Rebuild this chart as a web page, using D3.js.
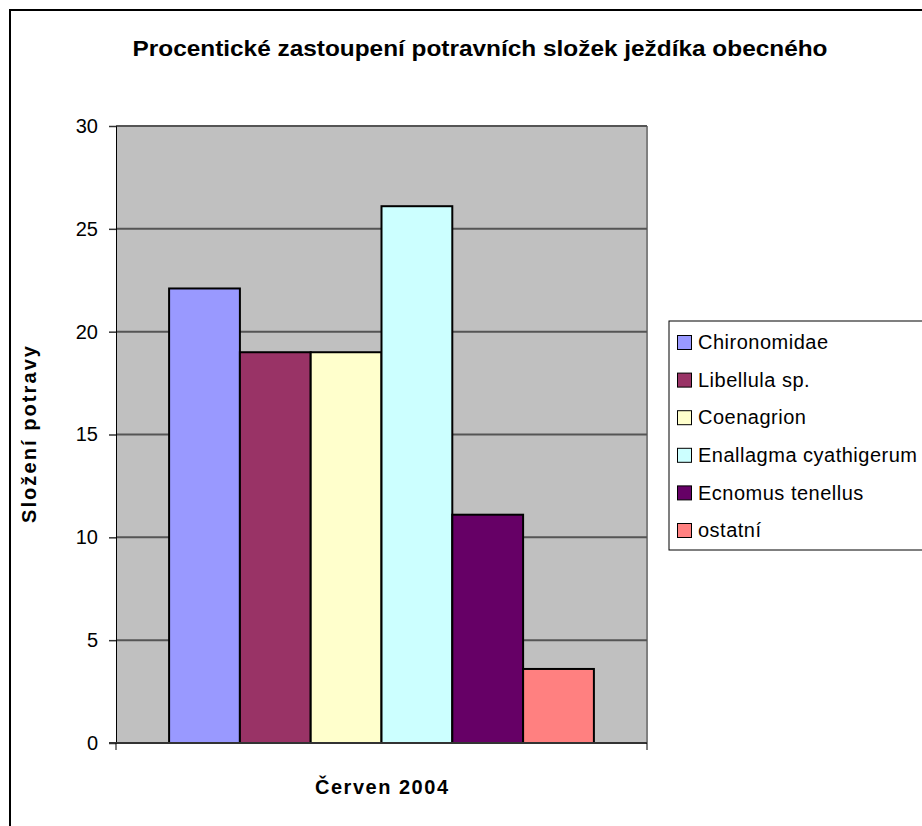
<!DOCTYPE html>
<html>
<head>
<meta charset="utf-8">
<script src="https://cdn.jsdelivr.net/npm/d3@7"></script>
<style>
  html, body { margin: 0; padding: 0; background: #fff; }
  svg { display: block; font-family: "Liberation Sans", Arial, sans-serif; }
</style>
</head>
<body>
<svg id="chart" width="922" height="826"></svg>
<script>
// Food composition of the great crested grebe, June 2004 (percent)
const categories = ["Chironomidae", "Libellula sp.", "Coenagrion", "Enallagma cyathigerum", "Ecnomus tenellus", "ostatní"];
const values = [22.1, 19.0, 19.0, 26.1, 11.1, 3.6];
const colors = ["#9999ff", "#993366", "#ffffcc", "#ccffff", "#660066", "#ff8080"];
const yTicks = [0, 5, 10, 15, 20, 25, 30];
const groupLabel = "Červen 2004";
const titleText = "Procentické zastoupení potravních složek ježdíka obecného";
const yTitle = "Složení potravy";

const svg = d3.select("#chart");

// Outer chart frame (runs off the right and bottom edges)
svg.append("rect")
  .attr("x", 10).attr("y", 10)
  .attr("width", 960).attr("height", 860)
  .attr("fill", "#fff").attr("stroke", "#000").attr("stroke-width", 2);

const plot = { left: 116, top: 126, right: 647, bottom: 743 };

const y = d3.scaleLinear().domain([0, 30]).range([plot.bottom, plot.top]);
const x = d3.scaleBand().domain(categories)
  .range([plot.left, plot.right])
  .paddingInner(0).paddingOuter(0.75);

// Plot background
svg.append("rect")
  .attr("x", plot.left).attr("y", plot.top)
  .attr("width", plot.right - plot.left).attr("height", plot.bottom - plot.top)
  .attr("fill", "#c0c0c0");

// Right border of plot area
svg.append("line")
  .attr("x1", plot.right).attr("x2", plot.right)
  .attr("y1", plot.top).attr("y2", plot.bottom)
  .attr("stroke", "#808080").attr("stroke-width", 2);

// Horizontal gridlines
svg.append("g").selectAll("line")
  .data(yTicks.filter(d => d > 0))
  .join("line")
  .attr("x1", plot.left).attr("x2", plot.right)
  .attr("y1", d => y(d)).attr("y2", d => y(d))
  .attr("stroke", "#555").attr("stroke-width", 2);

// Bars
svg.append("g").selectAll("rect")
  .data(categories)
  .join("rect")
  .attr("x", d => x(d))
  .attr("y", (d, i) => y(values[i]))
  .attr("width", x.bandwidth())
  .attr("height", (d, i) => y(0) - y(values[i]))
  .attr("fill", (d, i) => colors[i])
  .attr("stroke", "#000").attr("stroke-width", 2);

// Y axis
const yAxis = svg.append("g")
  .attr("transform", `translate(${plot.left},0)`)
  .call(d3.axisLeft(y).tickValues(yTicks).tickSize(7).tickPadding(11).tickFormat(d3.format("d")));
yAxis.select(".domain").attr("stroke", "#000").attr("stroke-width", 1);
yAxis.selectAll(".tick line").attr("stroke", "#333").attr("stroke-width", 1.5);
yAxis.selectAll(".tick text")
  .attr("font-size", 20).attr("fill", "#000")
  .attr("font-family", "Liberation Sans, Arial, sans-serif");

// X axis baseline with end ticks
svg.append("line")
  .attr("x1", plot.left - 7).attr("x2", plot.right)
  .attr("y1", plot.bottom).attr("y2", plot.bottom)
  .attr("stroke", "#333").attr("stroke-width", 2);
svg.append("g").selectAll("line")
  .data([plot.left, plot.right])
  .join("line")
  .attr("x1", d => d).attr("x2", d => d)
  .attr("y1", plot.bottom).attr("y2", plot.bottom + 7)
  .attr("stroke", "#000").attr("stroke-width", 1);

// Title
svg.append("text")
  .attr("x", 480).attr("y", 56)
  .attr("text-anchor", "middle")
  .attr("font-size", 22).attr("font-weight", "bold")
  .attr("textLength", 695).attr("lengthAdjust", "spacingAndGlyphs")
  .text(titleText);

// Category group label
svg.append("text")
  .attr("x", (plot.left + plot.right) / 2).attr("y", 794)
  .attr("text-anchor", "middle")
  .attr("font-size", 20).attr("font-weight", "bold")
  .attr("textLength", 133).attr("lengthAdjust", "spacing")
  .text(groupLabel);

// Y axis title
svg.append("text")
  .attr("transform", `translate(36,${(plot.top + plot.bottom) / 2}) rotate(-90)`)
  .attr("text-anchor", "middle")
  .attr("font-size", 20).attr("font-weight", "bold")
  .attr("textLength", 177).attr("lengthAdjust", "spacing")
  .text(yTitle);

// Legend
const legend = svg.append("g");
legend.append("rect")
  .attr("x", 669).attr("y", 321)
  .attr("width", 300).attr("height", 229)
  .attr("fill", "#fff").attr("stroke", "#000").attr("stroke-width", 1);

const rowY = d3.scalePoint().domain(categories).range([342, 530]);
const items = legend.selectAll("g.item")
  .data(categories)
  .join("g").attr("class", "item")
  .attr("transform", d => `translate(0,${rowY(d)})`);
items.append("rect")
  .attr("x", 677.5).attr("y", -6.5)
  .attr("width", 14).attr("height", 14)
  .attr("fill", (d, i) => colors[i])
  .attr("stroke", "#000").attr("stroke-width", 1);
items.append("text")
  .attr("x", 698).attr("y", 0)
  .attr("dy", "0.36em")
  .attr("font-size", 20)
  .attr("letter-spacing", 0.5)
  .text(d => d);
</script>
</body>
</html>
